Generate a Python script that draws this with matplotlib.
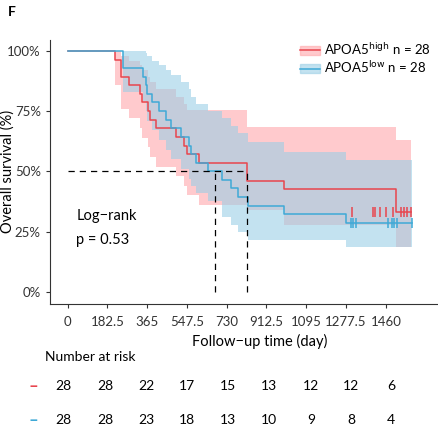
import matplotlib.pyplot as plt
from matplotlib.patches import Patch
from matplotlib.lines import Line2D

plt.rcParams['font.family'] = ['Lato', 'DejaVu Sans']

# APOA5 high
hi_t = [0, 219, 247, 284, 333, 343, 368, 379, 407, 499, 536, 549, 605, 823, 991, 1507]
hi_s = [100, 96.4, 89.3, 85.7, 82.1, 78.6, 75.0, 71.4, 67.9, 64.3, 60.7, 57.1, 53.6, 46.0, 42.6, 33.3]
hi_up = [100, 100, 98, 96, 94, 92, 89, 87, 84, 81, 78, 75.5, 75.5, 68.6, 68.6, 63]
hi_lo = [100, 86, 76, 72, 68, 64, 60, 56, 52, 48, 44, 40, 36, 34, 27.8, 18.8]
hi_end = 1575
hi_cens = [1306, 1400, 1408, 1431, 1462, 1492, 1530, 1544, 1559, 1575]

# APOA5 low
lo_t = [0, 253, 345, 358, 364, 388, 419, 452, 476, 521, 556, 567, 591, 644, 708, 751, 784, 827, 991, 1279]
lo_s = [100, 92.9, 89.3, 85.7, 82.1, 78.6, 75.0, 71.4, 67.9, 64.3, 60.7, 57.1, 53.6, 50.0, 46.4, 42.9, 39.3, 35.7, 32.1, 28.6]
lo_up = [100, 100, 100, 99, 98, 96, 94, 92, 90, 87, 84, 81, 78, 75, 72, 69, 66, 62, 58.2, 54.8]
lo_lo = [100, 83, 79, 75, 71, 67, 63, 59, 55, 51, 47, 44, 41, 37.5, 31, 27.8, 24.7, 21.6, 21.6, 18.8]
lo_end = 1580
lo_cens = [1302, 1310, 1321, 1471, 1489, 1496, 1512, 1580]

medians = [676, 824]

xticks = [0, 182.5, 365, 547.5, 730, 912.5, 1095, 1277.5, 1460]
xlabels = ['0', '182.5', '365', '547.5', '730', '912.5', '1095', '1277.5', '1460']
risk_hi = [28, 28, 22, 17, 15, 13, 12, 12, 6]
risk_lo = [28, 28, 23, 18, 13, 10, 9, 8, 4]

red = '#E8454E'
blue = '#3FA9D6'
red_fill = '#FFA8AC'
blue_fill = '#9CCFE6'

fig = plt.figure(figsize=(4.38, 4.28), dpi=100)
ax = fig.add_axes([0.114, 0.290, 0.959, 0.617])


def km(ax, t, s, up, lo, end, cens, col, fill):
    t2 = t + [end]
    s2 = [v / 100 for v in s] + [s[-1] / 100]
    ax.fill_between(t2, [v / 100 for v in lo] + [lo[-1] / 100],
                    [v / 100 for v in up] + [up[-1] / 100],
                    step='post', color=fill, alpha=0.6, lw=0)
    ax.step(t2, s2, where='post', color=col, lw=1.1)
    ax.plot(cens, [s[-1] / 100] * len(cens), ls='none', marker='|', ms=7, mew=1.1, color=col)


km(ax, hi_t, hi_s, hi_up, hi_lo, hi_end, hi_cens, red, red_fill)
km(ax, lo_t, lo_s, lo_up, lo_lo, lo_end, lo_cens, blue, blue_fill)

dash = dict(color='black', lw=0.9, ls=(0, (5, 4)))
ax.plot([0, max(medians)], [0.5, 0.5], **dash)
for m in medians:
    ax.plot([m, m], [0, 0.5], **dash)

ax.set_xlim(-81, 1846)
ax.set_ylim(-0.05, 1.046)
ax.set_xticks(xticks)
ax.set_xticklabels(xlabels)
ax.set_yticks([0, 0.25, 0.5, 0.75, 1.0])
ax.set_yticklabels(['0%', '25%', '50%', '75%', '100%'])
ax.tick_params(labelsize=9.5, colors='#333333', length=3)
ax.tick_params(axis='x', pad=6)
for sp in ['top', 'right']:
    ax.spines[sp].set_visible(False)
ax.spines['left'].set_color('#333333')
ax.spines['bottom'].set_color('#333333')
ax.set_xlabel('Follow\u2212up time (day)', fontsize=10.5, labelpad=4)
ax.set_ylabel('Overall survival (%)', fontsize=10.5)
ax.yaxis.set_label_coords(-0.085, 0.5)

ax.text(40, 0.30, 'Log\u2212rank', fontsize=10.5)
ax.text(40, 0.20, 'p = 0.53', fontsize=10.5)

handles = [(Patch(color=red_fill, alpha=0.6), Line2D([], [], color=red, lw=1.1)),
           (Patch(color=blue_fill, alpha=0.6), Line2D([], [], color=blue, lw=1.1))]
ax.legend(handles, ['APOA5$^{\\mathrm{high}}$ n = 28', 'APOA5$^{\\mathrm{low}}$ n = 28'],
          loc='upper left', bbox_to_anchor=(300 / 438, 1 - 41 / 428), bbox_transform=fig.transFigure,
          frameon=False, fontsize=9.5, handlelength=1.5, handletextpad=0.35, labelspacing=0.2,
          borderaxespad=0, borderpad=0)

fig.text(8 / 438, 1 - 12 / 428, 'F', fontsize=10, fontweight='bold', va='center')
fig.text(45 / 438, 1 - 357 / 428, 'Number at risk', fontsize=10, va='center')
xs = [63, 105, 146, 187, 228, 269, 311, 351, 391]
for row, y, col in [(risk_hi, 386, red), (risk_lo, 420, blue)]:
    fig.text(33 / 438, 1 - y / 428, '\u2013', color=col, fontsize=12, fontweight='bold', ha='center', va='center')
    for x, v in zip(xs, row):
        fig.text(x / 438, 1 - y / 428, str(v), fontsize=10, ha='center', va='center')

fig.savefig('out.png', dpi=100)
